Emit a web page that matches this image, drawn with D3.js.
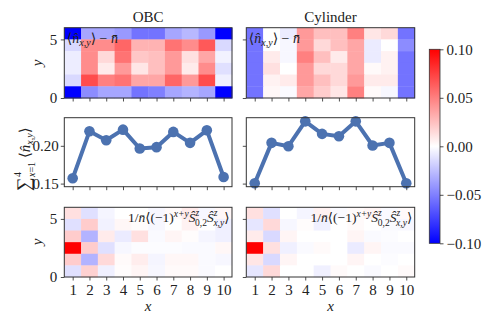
<!DOCTYPE html>
<html>
<head>
<meta charset="utf-8">
<script src="https://cdn.jsdelivr.net/npm/d3@7"></script>
<style>
  body { margin: 0; background: #fff; }
  svg text { font-family: "Liberation Serif", "DejaVu Serif", serif; fill: #222; }
</style>
</head>
<body>
<div class="canvas"></div>
<script>
const W = 488, H = 326;

// x sites and y sites
const xSites = d3.range(1, 11);
const ySites = d3.range(0, 6);

// rows listed from y = 5 (top) down to y = 0
const obcDensity = [
  [-0.10, -0.035, -0.035, -0.040, -0.055, -0.055, -0.035, -0.028, -0.040, -0.10],
  [-0.015, 0.045, 0.045, 0.060, 0.030, 0.030, 0.055, 0.045, 0.065, -0.015],
  [-0.007, 0.045, 0.015, 0.055, 0.022, 0.025, 0.040, 0.012, 0.035, -0.005],
  [-0.007, 0.045, 0.008, 0.040, 0.010, 0.025, 0.040, 0.008, 0.045, -0.012],
  [-0.015, 0.070, 0.050, 0.055, 0.035, 0.035, 0.060, 0.040, 0.070, -0.006],
  [-0.10, -0.045, -0.035, -0.035, -0.055, -0.050, -0.035, -0.030, -0.035, -0.10]
];
const cylDensity = [
  [-0.055, 0.000, -0.008, 0.040, 0.025, 0.025, 0.050, 0.010, 0.015, -0.055],
  [-0.055, 0.000, -0.003, 0.040, 0.015, 0.025, 0.035, -0.008, 0.000, -0.045],
  [-0.055, 0.008, -0.003, 0.050, 0.025, 0.008, 0.035, -0.008, 0.005, -0.055],
  [-0.055, 0.012, 0.000, 0.040, 0.015, 0.015, 0.035, 0.002, 0.005, -0.055],
  [-0.055, 0.005, 0.008, 0.040, 0.025, 0.015, 0.040, 0.008, 0.008, -0.055],
  [-0.055, 0.003, -0.002, 0.035, 0.020, 0.010, 0.050, 0.002, -0.003, -0.055]
];
const obcSpin = [
  [0.012, -0.012, -0.004, 0.000, 0.000, -0.003, 0.002, 0.008, -0.003, 0.003],
  [-0.012, 0.020, -0.005, 0.003, 0.001, -0.003, 0.000, 0.005, 0.000, -0.006],
  [0.020, -0.030, 0.008, -0.008, 0.012, -0.002, 0.004, 0.001, -0.004, -0.006],
  [0.100, 0.020, -0.012, -0.003, -0.001, -0.001, -0.001, -0.002, -0.002, 0.003],
  [0.020, -0.030, 0.015, 0.002, 0.007, -0.004, 0.003, 0.003, -0.002, -0.003],
  [-0.012, 0.018, -0.006, 0.001, 0.004, -0.003, 0.002, 0.002, -0.002, 0.000]
];
const cylSpin = [
  [0.012, -0.012, 0.000, -0.004, 0.005, -0.002, 0.002, 0.004, -0.002, 0.002],
  [-0.010, 0.015, -0.003, 0.001, -0.006, 0.000, 0.002, 0.000, -0.002, -0.003],
  [0.008, -0.015, 0.004, 0.000, 0.000, 0.000, 0.004, -0.002, -0.001, 0.000],
  [0.100, 0.012, -0.006, -0.002, 0.002, 0.000, -0.008, 0.004, -0.002, -0.002],
  [0.010, -0.015, 0.004, 0.000, 0.000, 0.000, 0.004, 0.000, -0.001, 0.000],
  [-0.010, 0.015, 0.000, 0.000, -0.006, 0.002, 0.000, -0.002, 0.000, 0.002]
];

// column sums of the density
const obcSum = [0.157, 0.2192, 0.2074, 0.2214, 0.1964, 0.1982, 0.2184, 0.2039, 0.2205, 0.1587];
const cylSum = [0.1504, 0.2039, 0.1995, 0.2324, 0.2158, 0.2127, 0.2324, 0.2004, 0.2039, 0.1504];

const titles = ["OBC", "Cylinder"];
const cbarTicks = [-0.10, -0.05, 0.00, 0.05, 0.10];
const sumTicks = [0.15, 0.20];

const cols = [
  { left: 64.3, right: 232 },
  { left: 246.3, right: 414.7 }
];
const rows = [
  { top: 27.7, bottom: 98 },
  { top: 117.7, bottom: 186.7 },
  { top: 207.3, bottom: 277 }
];

const color = d3.scaleLinear().domain([-0.1, 0, 0.1])
  .range(["#0000ff", "#ffffff", "#ff0000"]).clamp(true);

const svg = d3.select(".canvas").append("svg")
  .attr("width", W).attr("height", H);

const fmt = d => d3.format(".2f")(d).replace("-", "\u2212");

function styleAxis(g) {
  g.select(".domain").remove();
  g.selectAll(".tick line").attr("stroke", "#222").attr("stroke-width", 0.8);
  g.selectAll(".tick text").style("font-size", "15px").attr("fill", "#222");
}

function frame(c, r) {
  svg.append("rect")
    .attr("x", c.left).attr("y", r.top)
    .attr("width", c.right - c.left).attr("height", r.bottom - r.top)
    .attr("fill", "none").attr("stroke", "#333").attr("stroke-width", 1);
}

function heatmap(data, c, r, showY, showX) {
  const x = d3.scaleLinear().domain([0.5, 10.5]).range([c.left, c.right]);
  const y = d3.scaleLinear().domain([0, 6]).range([r.bottom, r.top]);
  const g = svg.append("g");
  data.forEach((row, i) => {
    const yv = 5 - i;
    g.selectAll(null).data(row).enter().append("rect")
      .attr("x", (d, j) => x(xSites[j] - 0.5))
      .attr("y", y(yv + 1))
      .attr("width", x(1.5) - x(0.5) + 0.4)
      .attr("height", y(0) - y(1) + 0.4)
      .attr("fill", d => color(d));
  });
  const ax = svg.append("g").attr("transform", `translate(${c.left},0)`)
    .call(d3.axisLeft(y).tickValues([0, 5]).tickSize(3.5).tickPadding(3.5)
      .tickFormat(showY ? d3.format("d") : ""));
  styleAxis(ax);
  const bx = svg.append("g").attr("transform", `translate(0,${r.bottom})`)
    .call(d3.axisBottom(x).tickValues(xSites).tickSize(3.5).tickPadding(4)
      .tickFormat(showX ? d3.format("d") : ""));
  styleAxis(bx);
  frame(c, r);
  return { x, y };
}

// top row: density deviation
[obcDensity, cylDensity].forEach((d, k) => heatmap(d, cols[k], rows[0], k === 0, false));
// bottom row: spin correlation
[obcSpin, cylSpin].forEach((d, k) => heatmap(d, cols[k], rows[2], k === 0, true));

// middle row: summed density
const ySum = d3.scaleLinear().domain([0.1459, 0.2372]).range([rows[1].bottom, rows[1].top]);
[obcSum, cylSum].forEach((vals, k) => {
  const c = cols[k];
  const x = d3.scaleLinear().domain([0.5, 10.5]).range([c.left, c.right]);
  const g = svg.append("g");
  g.append("path")
    .datum(vals)
    .attr("fill", "none").attr("stroke", "#4c72b0").attr("stroke-width", 4)
    .attr("stroke-linejoin", "round")
    .attr("d", d3.line().x((d, i) => x(xSites[i])).y(d => ySum(d)));
  g.selectAll("circle").data(vals).enter().append("circle")
    .attr("cx", (d, i) => x(xSites[i])).attr("cy", d => ySum(d))
    .attr("r", 5.3).attr("fill", "#4c72b0");
  const ax = svg.append("g").attr("transform", `translate(${c.left},0)`)
    .call(d3.axisLeft(ySum).tickValues(sumTicks).tickSize(3.5).tickPadding(2)
      .tickFormat(k === 0 ? fmt : ""));
  styleAxis(ax);
  const bx = svg.append("g").attr("transform", `translate(0,${rows[1].bottom})`)
    .call(d3.axisBottom(x).tickValues(xSites).tickSize(3.5).tickFormat(""));
  styleAxis(bx);
  frame(c, rows[1]);
});

// column titles
titles.forEach((t, k) => {
  svg.append("text")
    .attr("x", (cols[k].left + cols[k].right) / 2).attr("y", 21.5)
    .attr("text-anchor", "middle").style("font-size", "15px").text(t);
});

// in-panel labels
function mt(sel, txt, size, opt) {
  const s = sel.append("tspan").style("font-size", size + "px").text(txt);
  if (opt && opt.italic) s.style("font-style", "italic");
  if (opt && opt.dy) s.attr("dy", opt.dy);
  if (opt && opt.dx) s.attr("dx", opt.dx);
  return s;
}

function densityLabel(k) {
  const t = svg.append("text").attr("x", cols[k].left + 2.5).attr("y", 43);
  mt(t, "\u27E8", 14);
  mt(t, "n\u0302", 14, { italic: true });
  mt(t, "x,y", 10, { italic: true, dy: 3 });
  mt(t, "\u27E9 \u2212 ", 14, { dy: -3 });
  mt(t, "n\u0304", 14, { italic: true });
}
densityLabel(0); densityLabel(1);

function spinLabel(k) {
  const t = svg.append("text")
    .attr("x", cols[k].right - 2.5).attr("y", 222).attr("text-anchor", "end");
  mt(t, "1/", 13.5);
  mt(t, "n\u0304", 13.5, { italic: true });
  mt(t, "\u27E8(\u22121)", 13.5);
  mt(t, "x+y", 9.5, { italic: true, dy: -5.5 });
  mt(t, "\u015C", 13.5, { italic: true, dy: 5.5 });
  mt(t, "z", 9.5, { italic: true, dy: -6.5 });
  mt(t, "0,2", 9.5, { dx: -4, dy: 10.5 });
  mt(t, "\u015C", 13.5, { italic: true, dy: -4 });
  mt(t, "z", 9.5, { italic: true, dy: -6.5 });
  mt(t, "x,y", 9.5, { italic: true, dx: -4, dy: 10.5 });
  mt(t, "\u27E9", 13.5, { dy: -4 });
}
spinLabel(0); spinLabel(1);

// axis labels
[62.8, 242].forEach(cy => {
  svg.append("text")
    .attr("transform", `translate(42,${cy}) rotate(-90)`)
    .attr("text-anchor", "middle")
    .style("font-size", "15px").style("font-style", "italic")
    .text("y");
});
cols.forEach(c => {
  svg.append("text")
    .attr("x", (c.left + c.right) / 2).attr("y", 311)
    .attr("text-anchor", "middle")
    .style("font-size", "15px").style("font-style", "italic")
    .text("x");
});

// middle y label: sum_{x=1}^4 <n_{x,y}>
const yl = svg.append("g").attr("transform", "translate(30,154) rotate(-90)");
yl.append("text").attr("x", -37).attr("y", 0).style("font-size", "19px").text("\u2211");
yl.append("text").attr("x", -23).attr("y", -9).style("font-size", "10px").text("4");
const sub = yl.append("text").attr("x", -23).attr("y", 5);
mt(sub, "x", 10, { italic: true });
mt(sub, "=1", 10);
const yn = yl.append("text").attr("x", -4).attr("y", 0);
mt(yn, "\u27E8", 15);
mt(yn, "n\u0302", 15, { italic: true });
mt(yn, "x,y", 10, { italic: true, dy: 3 });
mt(yn, "\u27E9", 15, { dy: -3 });

// colorbar
const cb = { left: 429.3, right: 440, top: 49.3, bottom: 243.3 };
const grad = svg.append("defs").append("linearGradient")
  .attr("id", "bwr").attr("x1", 0).attr("y1", 1).attr("x2", 0).attr("y2", 0);
grad.selectAll("stop").data([-0.1, 0, 0.1]).enter().append("stop")
  .attr("offset", d => (d + 0.1) / 0.2).attr("stop-color", d => color(d));
svg.append("rect")
  .attr("x", cb.left).attr("y", cb.top)
  .attr("width", cb.right - cb.left).attr("height", cb.bottom - cb.top)
  .attr("fill", "url(#bwr)").attr("stroke", "#333").attr("stroke-width", 0.8);
const yc = d3.scaleLinear().domain([-0.1, 0.1]).range([cb.bottom, cb.top]);
const cax = svg.append("g").attr("transform", `translate(${cb.right},0)`)
  .call(d3.axisRight(yc).tickValues(cbarTicks).tickSize(3.5).tickPadding(3).tickFormat(fmt));
styleAxis(cax);
</script>
</body>
</html>
